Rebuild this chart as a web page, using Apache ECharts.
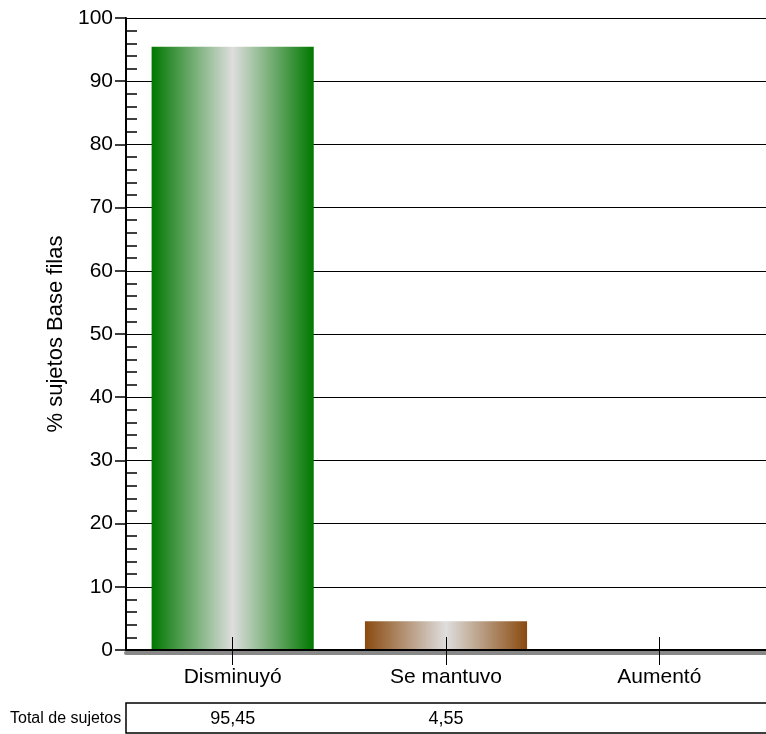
<!DOCTYPE html>
<html>
<head>
<meta charset="utf-8">
<script src="https://cdn.jsdelivr.net/npm/echarts@6/dist/echarts.min.js"></script>
<style>html,body{margin:0;padding:0;background:#fff}#c{width:766px;height:734px}</style>
</head>
<body>
<div id="c"></div>
<script>
var categories = ['Disminuyó', 'Se mantuvo', 'Aumentó'];
var values = [95.45, 4.55, 0];
var yTicks = [0, 100, 10];
var tableTitle = 'Total de sujetos';
var yName = '% sujetos Base filas';

var edgeColors = ['#007800', '#8a4a10', '#1f3f9f'];
function grad(c) {
  return new echarts.graphic.LinearGradient(0, 0, 1, 0, [
    {offset: 0, color: c}, {offset: 0.5, color: '#dedede'}, {offset: 1, color: c}
  ]);
}
function fmt(v) { return v ? v.toFixed(2).replace('.', ',') : ''; }

var font = 'Liberation Sans, Arial, sans-serif';
var chart = echarts.init(document.getElementById('c'), null, {renderer: 'canvas'});
chart.setOption({
  animation: false,
  backgroundColor: '#fff',
  grid: {left: 126, right: -5, top: 18, bottom: 84, containLabel: false},
  xAxis: [
    {
      type: 'category', data: categories, position: 'bottom', z: 6,
      axisLine: {lineStyle: {color: '#000', width: 2}},
      axisTick: {show: true, alignWithLabel: true, inside: true, length: 13, lineStyle: {color: '#000', width: 1}},
      axisLabel: {color: '#000', fontFamily: font, fontSize: 21, margin: 17},
      splitLine: {show: false}
    },
    {
      type: 'category', data: categories, position: 'bottom', z: 6,
      axisLine: {show: false},
      axisTick: {show: true, alignWithLabel: true, inside: false, length: 15, lineStyle: {color: '#000', width: 1}},
      axisLabel: {show: false},
      splitLine: {show: false}
    },
    {
      type: 'category', data: categories, position: 'bottom', offset: 69,
      axisLine: {show: false}, axisTick: {show: false},
      axisLabel: {color: '#000', fontFamily: font, fontSize: 18, margin: 0, verticalAlign: 'middle',
        formatter: function (v, i) { return fmt(values[i]); }},
      splitLine: {show: false}
    },
    {
      type: 'category', data: categories, position: 'bottom', offset: 3, z: 5,
      axisLine: {show: true, lineStyle: {color: '#888', width: 4}},
      axisTick: {show: false}, axisLabel: {show: false}, splitLine: {show: false}
    }
  ],
  yAxis: [
    {
      type: 'value', min: yTicks[0], max: yTicks[1], interval: yTicks[2], position: 'left',
      name: yName, nameLocation: 'middle', nameRotate: 90, nameGap: 58,
      nameTextStyle: {color: '#000', fontFamily: font, fontSize: 22},
      axisLine: {show: true, lineStyle: {color: '#000', width: 2}},
      axisTick: {show: true, inside: false, length: 11, lineStyle: {color: '#000', width: 1.5}},
      axisLabel: {color: '#000', fontFamily: font, fontSize: 21, margin: 13},
      splitLine: {show: true, lineStyle: {color: '#000', width: 1}}
    },
    {
      type: 'value', min: yTicks[0], max: yTicks[1], interval: yTicks[2], position: 'left',
      axisLine: {show: false},
      axisTick: {show: false, inside: true},
      minorTick: {show: true, splitNumber: 5, length: 11, lineStyle: {color: '#000', width: 1.5}},
      axisLabel: {show: false},
      splitLine: {show: false}
    }
  ],
  series: [{
    type: 'bar', barWidth: '76%', xAxisIndex: 0, yAxisIndex: 0,
    data: values.map(function (v, i) {
      return {value: v, itemStyle: {color: grad(edgeColors[i])}};
    })
  }],
  graphic: [
    {type: 'rect', shape: {x: 126, y: 703, width: 660, height: 30}, style: {fill: 'none', stroke: '#000', lineWidth: 1.5}, z: 10},
    {type: 'text', left: 10, top: 711, style: {text: tableTitle, fill: '#000', font: '16px ' + font}, z: 10}
  ]
});
</script>
</body>
</html>
